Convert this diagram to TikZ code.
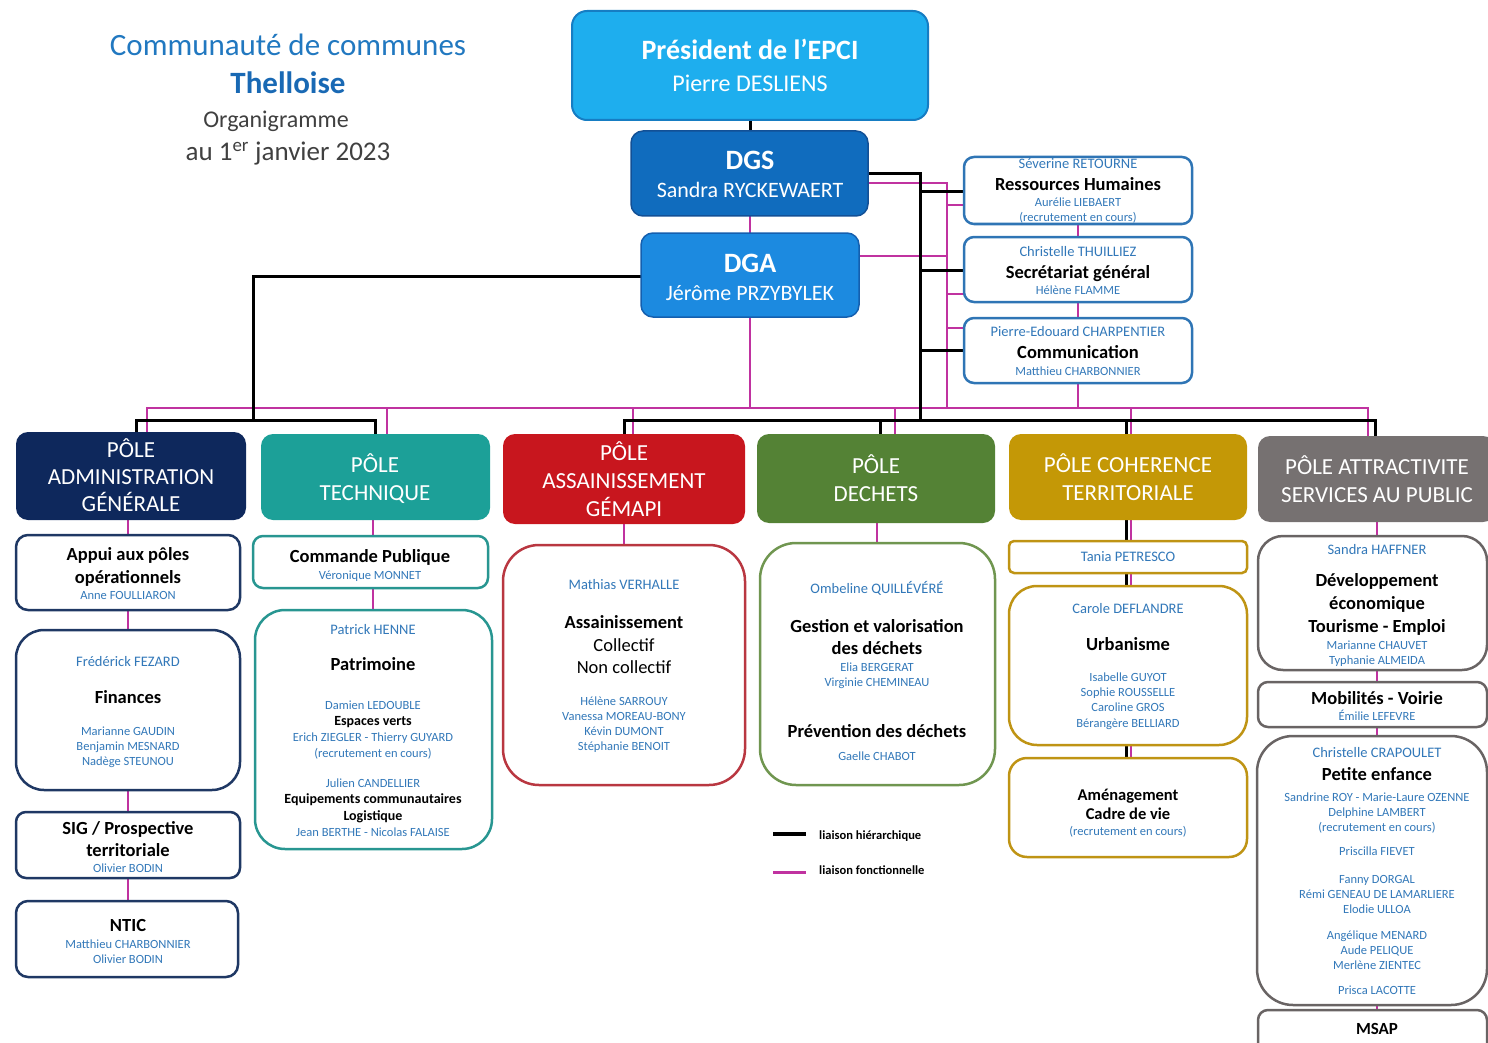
\documentclass[tikz,border=0pt]{standalone}
\usepackage{fontspec}
\setmainfont{Carlito}
\usetikzlibrary{backgrounds}
\definecolor{titc}{RGB}{33,120,192}
\definecolor{titd}{RGB}{25,105,180}
\definecolor{grayc}{RGB}{64,64,64}
\definecolor{namec}{RGB}{50,120,185}
\definecolor{presc}{RGB}{30,174,238}
\definecolor{presd}{RGB}{22,125,195}
\definecolor{dgsc}{RGB}{16,108,190}
\definecolor{dgsd}{RGB}{18,80,150}
\definecolor{dgac}{RGB}{28,138,224}
\definecolor{dgad}{RGB}{20,95,175}
\definecolor{rhd}{RGB}{47,117,181}
\definecolor{admc}{RGB}{14,40,92}
\definecolor{admd}{RGB}{31,56,100}
\definecolor{tecc}{RGB}{28,160,152}
\definecolor{tecd}{RGB}{40,150,145}
\definecolor{assc}{RGB}{200,22,30}
\definecolor{assd}{RGB}{185,55,65}
\definecolor{decc}{RGB}{84,130,53}
\definecolor{decd}{RGB}{112,150,80}
\definecolor{cohc}{RGB}{196,152,6}
\definecolor{cohd}{RGB}{191,148,20}
\definecolor{attc}{RGB}{118,113,113}
\definecolor{attd}{RGB}{105,100,100}
\definecolor{magc}{RGB}{192,50,160}
\newcommand{\fs}[1]{\fontsize{#1}{#1}\selectfont}
\newcommand{\mybox}[6]{\node[#2, anchor=north west, minimum width={#5-#3}, minimum height={#6-#4}] (#1) at (#3,#4) {};}
\newcommand{\mytext}[5]{\node[#2] (#1) at (#3,#4) {#5};}
\begin{document}
\begin{tikzpicture}[x=1pt,y=-1pt,
  hier/.style={draw=black, line width=3pt},
  func/.style={draw=magc, line width=2pt},
  bxbase/.style={inner sep=0pt, outer sep=0pt, line width=2.5pt, fill=white},
  polebox/.style={inner sep=0pt, outer sep=0pt, draw=none, rounded corners=12pt},
  tbase/.style={inner sep=0pt, anchor=base},
  tnm/.style={tbase, text=namec, font=\fs{12.5}},
  tnmm/.style={tbase, text=namec, font=\fs{14.5}},
  tnmL/.style={tbase, text=namec, font=\fs{14.5}},
  thd/.style={tbase, text=black, font=\bfseries\fs{18.5}},
  thdr/.style={tbase, text=black, font=\fs{18.5}},
  tsub/.style={tbase, text=black, font=\bfseries\fs{14}},
  tpl/.style={tbase, text=white, font=\fs{23}},
  twb/.style={tbase, text=white, font=\bfseries\fs{28}},
  twr/.style={tbase, text=white, font=\fs{22}}]
\useasboundingbox (0,0) rectangle (1488,1043);
\clip (0,0) rectangle (1488,1043);

% ---------- boxes ----------
\mybox{pres}{polebox, fill=presc, draw=presd, line width=2pt, rounded corners=15pt}{572}{11}{928}{120}
\mybox{dgs}{polebox, fill=dgsc, draw=dgsd, line width=1.5pt}{631}{131}{868}{216}
\mybox{dga}{polebox, fill=dgac, draw=dgad, line width=1.5pt}{641}{233}{859}{317}
\mybox{rh}{bxbase, draw=rhd, rounded corners=10pt}{964}{157}{1192}{224}
\mybox{sec}{bxbase, draw=rhd, rounded corners=10pt}{964}{237}{1192}{302}
\mybox{com}{bxbase, draw=rhd, rounded corners=10pt}{964}{318}{1192}{383}

\mybox{pAdm}{polebox, fill=admc}{16}{432}{246}{520}
\mybox{pTec}{polebox, fill=tecc}{261}{434}{490}{520}
\mybox{pAss}{polebox, fill=assc}{503}{434}{745}{524}
\mybox{pDec}{polebox, fill=decc}{757}{434}{995}{523}
\mybox{pCoh}{polebox, fill=cohc}{1009}{434}{1247}{520}
\mybox{pAtt}{polebox, fill=attc}{1258}{436}{1495}{522}

\mybox{appui}{bxbase, draw=admd, rounded corners=12pt}{16}{535}{240}{610}
\mybox{fin}{bxbase, draw=admd, rounded corners=28pt}{16}{630}{240}{790}
\mybox{sig}{bxbase, draw=admd, rounded corners=10pt}{16}{812}{240}{878}
\mybox{ntic}{bxbase, draw=admd, rounded corners=12pt}{16}{901}{238}{977}

\mybox{cmd}{bxbase, draw=tecd, rounded corners=10pt}{253}{536}{488}{588}
\mybox{pat}{bxbase, draw=tecd, rounded corners=30pt}{255}{610}{492}{849}

\mybox{ass}{bxbase, draw=assd, rounded corners=36pt}{503}{545}{745}{785}
\mybox{dec}{bxbase, draw=decd, rounded corners=36pt}{760}{543}{995}{785}

\mybox{tan}{bxbase, draw=cohd, rounded corners=5pt}{1009}{541}{1247}{573}
\mybox{urb}{bxbase, draw=cohd, rounded corners=28pt}{1009}{586}{1247}{745}
\mybox{ame}{bxbase, draw=cohd, rounded corners=18pt}{1009}{758}{1247}{857}

\mybox{dev}{bxbase, draw=attd, rounded corners=25pt}{1258}{536}{1487}{670}
\mybox{mob}{bxbase, draw=attd, rounded corners=10pt}{1258}{682}{1487}{727}
\mybox{pet}{bxbase, draw=attd, rounded corners=36pt}{1257}{736}{1487}{1005}
\mybox{msap}{bxbase, draw=attd, rounded corners=10pt}{1258}{1010}{1487}{1060}

% ---------- junction coordinates ----------
\coordinate (bP) at (750,0);
\coordinate (bA) at (920,174);
\coordinate (bB) at (920,420);
\coordinate (bRH) at (920,192);
\coordinate (bSE) at (920,270);
\coordinate (bCO) at (920,350);
\coordinate (bL1) at (253,276);
\coordinate (bL2) at (253,420);
\coordinate (bLa) at (136,420);
\coordinate (bLb) at (375,420);
\coordinate (bRa) at (624,420);
\coordinate (bRb) at (1375,420);
\coordinate (bDe) at (880,420);
\coordinate (bCh) at (1126,420);
\coordinate (mA) at (947,183);
\coordinate (mB) at (947,408);
\coordinate (mRH) at (947,205);
\coordinate (mSE) at (947,294);
\coordinate (mCO) at (947,328);
\coordinate (mD) at (947,256);
\coordinate (mE) at (750,408);
\coordinate (mC) at (1078,408);
\coordinate (m1) at (147,408);
\coordinate (m2) at (387,408);
\coordinate (m3) at (633,408);
\coordinate (m4) at (895,408);
\coordinate (m5) at (1131,408);
\coordinate (m6) at (1368,408);
\coordinate (xA) at (128,0);
\coordinate (xT) at (373,0);
\coordinate (xS) at (624,0);
\coordinate (xD) at (877,0);
\coordinate (xV) at (1377,0);

% ---------- connectors ----------
\begin{scope}[on background layer]
% magenta (functional)
\draw[func] (mA -| dgs.east) -- (mA) -- (mB);
\draw[func] (mRH) -- (mRH -| rh.west);
\draw[func] (mSE) -- (mSE -| sec.west);
\draw[func] (mCO) -- (mCO -| com.west);
\draw[func] (mD -| dga.east) -- (mD);
\draw[func] (bP |- dgs.south) -- (bP |- dga.north);
\draw[func] (mE |- dga.south) -- (mE);
\draw[func] (mC |- rh.south) -- (mC |- sec.north);
\draw[func] (mC |- sec.south) -- (mC |- com.north);
\draw[func] (mC |- com.south) -- (mC);
\draw[func] (m1 |- pAdm.north) -- (m1) -- (m6) -- (m6 |- pAtt.north);
\draw[func] (m2) -- (m2 |- pTec.north);
\draw[func] (m3) -- (m3 |- pAss.north);
\draw[func] (m4) -- (m4 |- pDec.north);
\draw[func] (m5) -- (m5 |- pCoh.north);
\draw[func] (xA |- pAdm.south) -- (xA |- appui.north);
\draw[func] (xA |- appui.south) -- (xA |- fin.north);
\draw[func] (xA |- fin.south) -- (xA |- sig.north);
\draw[func] (xA |- sig.south) -- (xA |- ntic.north);
\draw[func] (xT |- pTec.south) -- (xT |- cmd.north);
\draw[func] (xT |- cmd.south) -- (xT |- pat.north);
\draw[func] (xS |- pAss.south) -- (xS |- ass.north);
\draw[func] (xD |- pDec.south) -- (xD |- dec.north);
\draw[func] (m5 |- pCoh.south) -- (m5 |- tan.north);
\draw[func] (m5 |- tan.south) -- (m5 |- urb.north);
\draw[func] (m5 |- urb.south) -- (m5 |- ame.north);
\draw[func] (xV |- pAtt.south) -- (xV |- dev.north);
\draw[func] (xV |- dev.south) -- (xV |- mob.north);
\draw[func] (xV |- mob.south) -- (xV |- pet.north);
\draw[func] (xV |- pet.south) -- (xV |- msap.north);
% black (hierarchical)
\draw[hier] (bP |- pres.south) -- (bP |- dgs.north);
\draw[hier] (bA -| dgs.east) -- (bA) -- (bB);
\draw[hier] (bRH) -- (bRH -| rh.west);
\draw[hier] (bSE) -- (bSE -| sec.west);
\draw[hier] (bCO) -- (bCO -| com.west);
\draw[hier] (bL1 -| dga.west) -- (bL1) -- (bL2);
\draw[hier] (bLa |- pAdm.north) -- (bLa) -- (bLb) -- (bLb |- pTec.north);
\draw[hier] (bRa |- pAss.north) -- (bRa) -- (bRb) -- (bRb |- pAtt.north);
\draw[hier] (bDe) -- (bDe |- pDec.north);
\draw[hier] (bCh) -- (bCh |- pCoh.north);
\draw[hier] (bCh |- pCoh.south) -- (bCh |- tan.north);
\draw[hier] (bCh |- tan.south) -- (bCh |- urb.north);
\draw[hier] (bCh |- urb.south) -- (bCh |- ame.north);
\end{scope}

% ---------- title ----------
\mytext{ti1}{tbase, text=titc, font=\fs{31}}{288}{56}{Communauté de communes}
\mytext{ti2}{tbase, text=titd, font=\bfseries\fs{31}}{288}{94}{Thelloise}
\mytext{ti3}{tbase, text=grayc, font=\fs{24}}{276}{128}{Organigramme}
\mytext{ti4}{tbase, text=grayc, font=\fs{27}}{288}{161}{au 1\textsuperscript{er} janvier 2023}

% ---------- top ----------
\mytext{pr1}{twb}{750}{60}{Président de l’EPCI}
\mytext{pr2}{tbase, text=white, font=\fs{24}}{750}{92}{Pierre DESLIENS}
\mytext{gs1}{twb}{750}{170}{DGS}
\mytext{gs2}{twr}{750}{198}{Sandra RYCKEWAERT}
\mytext{ga1}{twb}{750}{272}{DGA}
\mytext{ga2}{twr}{750}{300}{Jérôme PRZYBYLEK}

\mytext{rh1}{tnmm}{1078}{169}{Séverine RETOURNE}
\mytext{rh2}{thd}{1078}{191}{Ressources Humaines}
\mytext{rh3}{tnm}{1078}{207}{Aurélie LIEBAERT}
\mytext{rh4}{tnm}{1078}{222}{(recrutement en cours)}
\mytext{se1}{tnmm}{1078}{256}{Christelle THUILLIEZ}
\mytext{se2}{thd}{1078}{278}{Secrétariat général}
\mytext{se3}{tnm}{1078}{294}{Hélène FLAMME}
\mytext{co1}{tnmm}{1078}{336}{Pierre-Edouard CHARPENTIER}
\mytext{co2}{thd}{1078}{358}{Communication}
\mytext{co3}{tnm}{1078}{375}{Matthieu CHARBONNIER}

% ---------- poles ----------
\mytext{pa1}{tpl}{131}{457}{PÔLE}
\mytext{pa2}{tpl}{131}{484}{ADMINISTRATION}
\mytext{pa3}{tpl}{131}{511}{GÉNÉRALE}
\mytext{pt1}{tpl}{375}{472}{PÔLE}
\mytext{pt2}{tpl}{375}{500}{TECHNIQUE}
\mytext{ps1}{tpl}{624}{460}{PÔLE}
\mytext{ps2}{tpl}{624}{488}{ASSAINISSEMENT}
\mytext{ps3}{tpl}{624}{516}{GÉMAPI}
\mytext{pd1}{tpl}{876}{473}{PÔLE}
\mytext{pd2}{tpl}{876}{501}{DECHETS}
\mytext{pc1}{tpl}{1128}{472}{PÔLE COHERENCE}
\mytext{pc2}{tpl}{1128}{500}{TERRITORIALE}
\mytext{pv1}{tpl}{1377}{474}{PÔLE ATTRACTIVITE}
\mytext{pv2}{tpl}{1377}{502}{SERVICES AU PUBLIC}

% ---------- administration ----------
\mytext{ap1}{thd}{128}{560}{Appui aux pôles}
\mytext{ap2}{thd}{128}{583}{opérationnels}
\mytext{ap3}{tnm}{128}{599}{Anne FOULLIARON}
\mytext{fi1}{tnmL}{128}{666}{Frédérick FEZARD}
\mytext{fi2}{thd}{128}{703}{Finances}
\mytext{fi3}{tnm}{128}{735}{Marianne GAUDIN}
\mytext{fi4}{tnm}{128}{750}{Benjamin MESNARD}
\mytext{fi5}{tnm}{128}{765}{Nadège STEUNOU}
\mytext{sg1}{thd}{128}{834}{SIG / Prospective}
\mytext{sg2}{thd}{128}{856}{territoriale}
\mytext{sg3}{tnm}{128}{872}{Olivier BODIN}
\mytext{nt1}{thd}{128}{931}{NTIC}
\mytext{nt2}{tnm}{128}{948}{Matthieu CHARBONNIER}
\mytext{nt3}{tnm}{128}{963}{Olivier BODIN}

% ---------- technique ----------
\mytext{cm1}{thd}{370}{562}{Commande Publique}
\mytext{cm2}{tnm}{370}{579}{Véronique MONNET}
\mytext{tp1}{tnmm}{373}{634}{Patrick HENNE}
\mytext{tp2}{thd}{373}{670}{Patrimoine}
\mytext{tp3}{tnm}{373}{709}{Damien LEDOUBLE}
\mytext{tp4}{tsub}{373}{725}{Espaces verts}
\mytext{tp5}{tnm}{373}{741}{Erich ZIEGLER - Thierry GUYARD}
\mytext{tp6}{tnm}{373}{757}{(recrutement en cours)}
\mytext{tp7}{tnm}{373}{787}{Julien CANDELLIER}
\mytext{tp8}{tsub}{373}{803}{Equipements communautaires}
\mytext{tp9}{tsub}{373}{820}{Logistique}
\mytext{tp10}{tnm}{373}{836}{Jean BERTHE - Nicolas FALAISE}

% ---------- assainissement ----------
\mytext{as1}{tnmL}{624}{589}{Mathias VERHALLE}
\mytext{as2}{thd}{624}{628}{Assainissement}
\mytext{as3}{thdr}{624}{651}{Collectif}
\mytext{as4}{thdr}{624}{673}{Non collectif}
\mytext{as5}{tnm}{624}{705}{Hélène SARROUY}
\mytext{as6}{tnm}{624}{720}{Vanessa MOREAU-BONY}
\mytext{as7}{tnm}{624}{735}{Kévin DUMONT}
\mytext{as8}{tnm}{624}{750}{Stéphanie BENOIT}

% ---------- dechets ----------
\mytext{de1}{tnmL}{877}{593}{Ombeline QUILLÉVÉRÉ}
\mytext{de2}{thd}{877}{632}{Gestion et valorisation}
\mytext{de3}{thd}{877}{654}{des déchets}
\mytext{de4}{tnm}{877}{671}{Elia BERGERAT}
\mytext{de5}{tnm}{877}{686}{Virginie CHEMINEAU}
\mytext{de6}{thd}{877}{737}{Prévention des déchets}
\mytext{de7}{tnm}{877}{760}{Gaelle CHABOT}

% ---------- coherence ----------
\mytext{ta1}{tnmm}{1128}{561}{Tania PETRESCO}
\mytext{ur1}{tnmL}{1128}{613}{Carole DEFLANDRE}
\mytext{ur2}{thd}{1128}{650}{Urbanisme}
\mytext{ur3}{tnm}{1128}{681}{Isabelle GUYOT}
\mytext{ur4}{tnm}{1128}{696}{Sophie ROUSSELLE}
\mytext{ur5}{tnm}{1128}{711}{Caroline GROS}
\mytext{ur6}{tnm}{1128}{727}{Bérangère BELLIARD}
\mytext{am1}{tbase, font=\bfseries\fs{16.5}}{1128}{800}{Aménagement}
\mytext{am2}{tbase, font=\bfseries\fs{16.5}}{1128}{819}{Cadre de vie}
\mytext{am3}{tnm}{1128}{835}{(recrutement en cours)}

% ---------- attractivite ----------
\mytext{dv1}{tnmm}{1377}{554}{Sandra HAFFNER}
\mytext{dv2}{thd}{1377}{586}{Développement}
\mytext{dv3}{thd}{1377}{609}{économique}
\mytext{dv4}{thd}{1377}{632}{Tourisme - Emploi}
\mytext{dv5}{tnm}{1377}{649}{Marianne CHAUVET}
\mytext{dv6}{tnm}{1377}{664}{Typhanie ALMEIDA}
\mytext{mo1}{thd}{1377}{704}{Mobilités - Voirie}
\mytext{mo2}{tnm}{1377}{720}{Émilie LEFEVRE}
\mytext{pe1}{tnmm}{1377}{757}{Christelle CRAPOULET}
\mytext{pe2}{thd}{1377}{780}{Petite enfance}
\mytext{pe3}{tnm}{1377}{801}{Sandrine ROY - Marie-Laure OZENNE}
\mytext{pe4}{tnm}{1377}{816}{Delphine LAMBERT}
\mytext{pe5}{tnm}{1377}{831}{(recrutement en cours)}
\mytext{pe6}{tnm}{1377}{855}{Priscilla FIEVET}
\mytext{pe7}{tnm}{1377}{883}{Fanny DORGAL}
\mytext{pe8}{tnm}{1377}{898}{Rémi GENEAU DE LAMARLIERE}
\mytext{pe9}{tnm}{1377}{913}{Elodie ULLOA}
\mytext{pe10}{tnm}{1377}{939}{Angélique MENARD}
\mytext{pe11}{tnm}{1377}{954}{Aude PELIQUE}
\mytext{pe12}{tnm}{1377}{969}{Merlène ZIENTEC}
\mytext{pe13}{tnm}{1377}{994}{Prisca LACOTTE}
\mytext{ms1}{tbase, font=\bfseries\fs{17}}{1377}{1034}{MSAP}

% ---------- legend ----------
\coordinate (lg1) at (773,834);
\coordinate (lg2) at (806,834);
\coordinate (lg3) at (773,872);
\coordinate (lg4) at (806,872);
\draw[hier, line width=4pt] (lg1) -- (lg2);
\draw[func, line width=3pt] (lg3) -- (lg4);
\node[anchor=west, inner sep=0pt, font=\bfseries\fs{12.5}] (lgt1) at (819,836) {liaison hiérarchique};
\node[anchor=west, inner sep=0pt, font=\bfseries\fs{12.5}] (lgt2) at (819,870) {liaison fonctionnelle};
\end{tikzpicture}
\end{document}
